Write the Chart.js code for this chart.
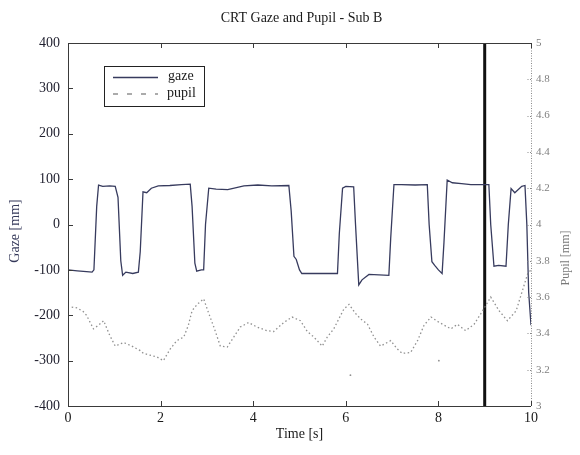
<!DOCTYPE html>
<html>
<head>
<meta charset="utf-8">
<script src="https://cdn.jsdelivr.net/npm/chart.js@4/dist/chart.umd.min.js"></script>
<style>
  html, body { margin: 0; padding: 0; background: #fff; }
  canvas { display: block; }
</style>
</head>
<body>
<canvas id="c" width="580" height="455"></canvas>
<script>
// Gaze position over time [s] -> [mm]
const gazeTime = [0.00, 0.20, 0.40, 0.52, 0.56, 0.62, 0.66, 0.75, 0.90, 1.02, 1.08, 1.14, 1.18, 1.25, 1.40, 1.52,
  1.56, 1.62, 1.70, 1.80, 1.95, 2.20, 2.45, 2.64, 2.68, 2.74, 2.78, 2.88, 2.93, 2.97, 3.04, 3.20, 3.45, 3.80,
  4.10, 4.40, 4.77, 4.82, 4.88, 4.93, 5.00, 5.05, 5.40, 5.82, 5.86, 5.93, 6.00, 6.17, 6.21, 6.28, 6.35, 6.50,
  6.93, 6.97, 7.04, 7.20, 7.50, 7.76, 7.80, 7.86, 7.92, 8.00, 8.08, 8.12, 8.19, 8.30, 8.50, 8.70, 9.09, 9.13,
  9.20, 9.30, 9.46, 9.51, 9.57, 9.65, 9.80, 9.87, 9.91, 9.95, 10.00];
const gazeMm = [-100, -102, -104, -105, -100, 40, 87, 84, 85, 84, 60, -80, -112, -105, -108, -105,
  -60, 72, 70, 80, 85, 86, 88, 89, 40, -85, -103, -100, -100, 0, 80, 78, 77, 85,
  87, 85, 86, 30, -70, -77, -100, -108, -108, -108, -20, 80, 84, 83, 0, -133, -122, -110,
  -112, -30, 88, 88, 87, 88, 0, -82, -90, -100, -108, -40, 98, 92, 90, 88, 88, 0,
  -92, -90, -92, 0, 79, 70, 84, 86, 0, -150, -222];

// Pupil diameter over time [s] -> [mm]
const pupilTime = [0.08, 0.20, 0.33, 0.40, 0.55, 0.66, 0.77, 0.90, 1.02, 1.20, 1.38, 1.56, 1.63, 1.77, 1.92,
  2.06, 2.21, 2.35, 2.50, 2.60, 2.68, 2.79, 2.93, 3.04, 3.15, 3.29, 3.44, 3.58, 3.72, 3.90, 4.08, 4.30, 4.44,
  4.66, 4.84, 5.02, 5.17, 5.31, 5.49, 5.60, 5.74, 5.85, 5.96, 6.07, 6.21, 6.32, 6.47, 6.61, 6.75, 6.97, 7.11,
  7.22, 7.40, 7.55, 7.69, 7.84, 8.02, 8.27, 8.41, 8.59, 8.77, 8.92, 9.13, 9.31, 9.49, 9.68, 9.82, 9.93, 10.00];
const pupilMm = [3.545, 3.54, 3.52, 3.50, 3.425, 3.445, 3.47, 3.39, 3.33, 3.35, 3.33, 3.305, 3.29, 3.28, 3.27,
  3.25, 3.315, 3.36, 3.38, 3.445, 3.525, 3.56, 3.59, 3.51, 3.435, 3.33, 3.325, 3.38, 3.435, 3.46, 3.435, 3.415, 3.41,
  3.46, 3.49, 3.47, 3.41, 3.38, 3.33, 3.38, 3.425, 3.48, 3.535, 3.56, 3.51, 3.48, 3.45, 3.38, 3.33, 3.36, 3.315,
  3.29, 3.295, 3.36, 3.445, 3.49, 3.46, 3.425, 3.45, 3.415, 3.45, 3.51, 3.60, 3.525, 3.47, 3.525, 3.64, 3.73, 3.75];

// Isolated pupil samples away from the trace
const strayTime = [6.10, 8.01];
const strayPupil = [3.17, 3.25];

// Event marker
const markerTime = 9;

// Tick labels
const timeTicks = [0, 2, 4, 6, 8, 10];
const gazeTicks = [-400, -300, -200, -100, 0, 100, 200, 300, 400];
const pupilTicks = [3, 3.2, 3.4, 3.6, 3.8, 4, 4.2, 4.4, 4.6, 4.8, 5];

const SERIF = "'Liberation Serif', 'DejaVu Serif', serif";
const GAZE_COLOR = '#373b5e';
const PUPIL_COLOR = 'rgba(125,125,125,0.85)';

const pts = (xs, ys) => xs.map((x, i) => ({ x, y: ys[i] }));

// Axes frame with inward ticks, titles and legend
const decorations = {
  id: 'decorations',
  afterDatasetsDraw(chart) {
    const { ctx, chartArea: a, scales } = chart;
    const sx = scales.x, sy = scales.y, sy2 = scales.y2;
    ctx.save();

    // right axis (dotted, grey)
    ctx.strokeStyle = '#8a8a8a';
    ctx.lineWidth = 1;
    ctx.setLineDash([1, 1.5]);
    ctx.beginPath();
    ctx.moveTo(a.right + 0.5, a.top);
    ctx.lineTo(a.right + 0.5, a.bottom);
    pupilTicks.forEach(v => {
      const y = Math.round(sy2.getPixelForValue(v)) + 0.5;
      ctx.moveTo(a.right, y);
      ctx.lineTo(a.right - 5, y);
    });
    ctx.stroke();
    ctx.setLineDash([]);

    // left, top, bottom axes
    ctx.strokeStyle = '#3a3a3a';
    ctx.lineWidth = 1;
    ctx.beginPath();
    ctx.moveTo(a.left + 0.5, a.top + 0.5);
    ctx.lineTo(a.left + 0.5, a.bottom + 0.5);
    ctx.lineTo(a.right, a.bottom + 0.5);
    ctx.moveTo(a.left, a.top + 0.5);
    ctx.lineTo(a.right, a.top + 0.5);
    gazeTicks.forEach(v => {
      const y = Math.round(sy.getPixelForValue(v)) + 0.5;
      ctx.moveTo(a.left, y);
      ctx.lineTo(a.left + 5, y);
    });
    timeTicks.forEach(v => {
      const x = Math.round(sx.getPixelForValue(v)) + 0.5;
      ctx.moveTo(x, a.bottom);
      ctx.lineTo(x, a.bottom - 5);
      ctx.moveTo(x, a.top);
      ctx.lineTo(x, a.top + 5);
    });
    ctx.stroke();

    // titles
    ctx.fillStyle = '#1a1a1a';
    ctx.font = '14px ' + SERIF;
    ctx.textAlign = 'center';
    ctx.textBaseline = 'alphabetic';
    ctx.fillText('CRT Gaze and Pupil - Sub B', (a.left + a.right) / 2 + 2, 22);
    ctx.fillText('Time [s]', (a.left + a.right) / 2, 438);

    ctx.textBaseline = 'middle';
    ctx.save();
    ctx.translate(15, 231);
    ctx.rotate(-Math.PI / 2);
    ctx.fillStyle = '#35395a';
    ctx.fillText('Gaze [mm]', 0, 0);
    ctx.restore();

    ctx.save();
    ctx.translate(566, 258);
    ctx.rotate(-Math.PI / 2);
    ctx.fillStyle = '#7a7a7a';
    ctx.font = '12px ' + SERIF;
    ctx.fillText('Pupil [mm]', 0, 0);
    ctx.restore();

    // legend
    const lx = a.left + 36, ly = a.top + 23;
    ctx.fillStyle = '#fff';
    ctx.fillRect(lx, ly, 100, 40);
    ctx.strokeStyle = '#222';
    ctx.lineWidth = 1;
    ctx.strokeRect(lx + 0.5, ly + 0.5, 100, 40);

    ctx.strokeStyle = GAZE_COLOR;
    ctx.lineWidth = 1.3;
    ctx.beginPath();
    ctx.moveTo(lx + 9, ly + 11.5);
    ctx.lineTo(lx + 54, ly + 11.5);
    ctx.stroke();

    ctx.strokeStyle = PUPIL_COLOR;
    ctx.setLineDash([5, 9]);
    ctx.beginPath();
    ctx.moveTo(lx + 9, ly + 28);
    ctx.lineTo(lx + 54, ly + 28);
    ctx.stroke();
    ctx.setLineDash([]);

    ctx.fillStyle = '#1a1a1a';
    ctx.font = '14px ' + SERIF;
    ctx.textAlign = 'left';
    ctx.textBaseline = 'middle';
    ctx.fillText('gaze', lx + 64, ly + 10);
    ctx.fillText('pupil', lx + 63, ly + 27);

    ctx.restore();
  }
};

new Chart(document.getElementById('c'), {
  type: 'line',
  data: {
    datasets: [
      {
        label: 'pupil',
        data: pts(pupilTime, pupilMm),
        yAxisID: 'y2',
        borderColor: PUPIL_COLOR,
        borderWidth: 1.3,
        borderDash: [1.5, 2.5],
        pointRadius: 0,
        tension: 0,
        fill: false
      },
      {
        label: 'pupil-stray',
        data: pts(strayTime, strayPupil),
        yAxisID: 'y2',
        showLine: false,
        pointRadius: 0.9,
        pointBackgroundColor: PUPIL_COLOR,
        pointBorderWidth: 0
      },
      {
        label: 'gaze',
        data: pts(gazeTime, gazeMm),
        yAxisID: 'y',
        borderColor: GAZE_COLOR,
        borderWidth: 1.3,
        pointRadius: 0,
        tension: 0,
        fill: false
      },
      {
        label: 'marker',
        data: [{ x: markerTime, y: gazeTicks[0] }, { x: markerTime, y: gazeTicks[gazeTicks.length - 1] }],
        yAxisID: 'y',
        borderColor: '#111',
        borderWidth: 3,
        pointRadius: 0,
        fill: false
      }
    ]
  },
  options: {
    responsive: false,
    animation: false,
    events: [],
    layout: { padding: { top: 43, left: 0, right: 0, bottom: 0 } },
    plugins: {
      legend: { display: false },
      title: { display: false },
      tooltip: { enabled: false }
    },
    scales: {
      x: {
        type: 'linear',
        min: timeTicks[0],
        max: timeTicks[timeTicks.length - 1],
        afterBuildTicks: s => { s.ticks = timeTicks.map(v => ({ value: v })); },
        afterFit: s => { s.height = 49; },
        grid: { display: false, drawTicks: false },
        border: { display: false },
        ticks: {
          padding: 4,
          maxRotation: 0,
          color: '#1a1a1a',
          font: { family: SERIF, size: 14 },
          callback: v => String(v)
        }
      },
      y: {
        type: 'linear',
        position: 'left',
        min: gazeTicks[0],
        max: gazeTicks[gazeTicks.length - 1],
        afterBuildTicks: s => { s.ticks = gazeTicks.map(v => ({ value: v })); },
        afterFit: s => { s.width = 68; },
        grid: { display: false, drawTicks: false },
        border: { display: false },
        ticks: {
          padding: 8,
          color: '#1f1f2e',
          font: { family: SERIF, size: 14 },
          callback: v => String(v)
        }
      },
      y2: {
        type: 'linear',
        position: 'right',
        min: pupilTicks[0],
        max: pupilTicks[pupilTicks.length - 1],
        afterBuildTicks: s => { s.ticks = pupilTicks.map(v => ({ value: v })); },
        afterFit: s => { s.width = 49; },
        grid: { display: false, drawTicks: false },
        border: { display: false },
        ticks: {
          padding: 5,
          color: '#808080',
          font: { family: SERIF, size: 11 },
          callback: v => String(Number(v.toFixed(1)))
        }
      }
    }
  },
  plugins: [decorations]
});
</script>
</body>
</html>
